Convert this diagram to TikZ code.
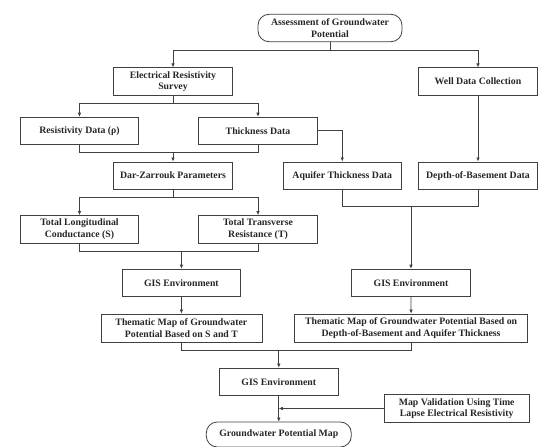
\documentclass[tikz,border=0pt]{standalone}
\usepackage{fontspec}
\setmainfont{Liberation Serif}
\usetikzlibrary{arrows.meta}
\tikzset{
  box/.style={draw=black!75, line width=0.8pt, rectangle, minimum width=118.5pt, minimum height=27.4pt, inner sep=1pt, align=center, font=\bfseries\fontsize{9.8}{11.6}\selectfont, text=black!85},
  rbox/.style={box, rounded corners=11pt},
  ln/.style={draw=black!75, line width=0.7pt},
  arr/.style={ln, -{Latex[length=4pt,width=3.6pt]}}
}
\begin{document}
\begin{tikzpicture}[x=1pt,y=-1pt]
\useasboundingbox (0,0) rectangle (550,447);
\node[rbox, minimum width=144pt] (top) at (330,28) {Assessment of Groundwater\\Potential};
\node[box] (ers) at (173,81.5) {Electrical Resistivity\\Survey};
\node[box] (well) at (478,81.5) {Well Data Collection};
\node[box] (res) at (79.5,130.8) {Resistivity Data (ρ)};
\node[box] (thick) at (258,130.8) {Thickness Data};
\node[box] (dz) at (173,175.6) {Dar-Zarrouk Parameters};
\node[box] (aq) at (342.3,175.6) {Aquifer Thickness Data};
\node[box] (depth) at (478,175.6) {Depth-of-Basement Data};
\node[box] (tl) at (79.5,229.2) {Total Longitudinal\\Conductance (S)};
\node[box] (tt) at (258,229.2) {Total Transverse\\Resistance (T)};
\node[box] (gis1) at (181.4,282.8) {GIS Environment};
\node[box] (gis2) at (411,282.8) {GIS Environment};
\node[box, minimum width=161pt, minimum height=28pt] (th1) at (181.4,328) {Thematic Map of Groundwater\\Potential Based on S and T};
\node[box, minimum width=233pt, minimum height=28pt] (th2) at (411.1,328) {Thematic Map of Groundwater Potential Based on\\Depth-of-Basement and Aquifer Thickness};
\node[box] (gis3) at (278.8,381.7) {GIS Environment};
\node[box, minimum width=145pt] (mv) at (456.7,408.5) {Map Validation Using Time\\Lapse Electrical Resistivity};
\node[rbox, minimum width=145pt, minimum height=25pt] (gpm) at (278.8,434.5) {Groundwater Potential Map};

\coordinate (j1) at (330,50);
\coordinate (j2) at (173,103.3);
\coordinate (j3) at (173,152.3);
\coordinate (j4) at (173,197.8);
\coordinate (j5) at (181.4,251.4);
\coordinate (j6) at (411,206.3);
\coordinate (j7) at (278.8,350.5);

\draw[ln] (top.south) -- (j1);
\draw[arr] (j1) -| (ers.north);
\draw[arr] (j1) -| (well.north);
\draw[ln] (ers.south) -- (j2);
\draw[arr] (j2) -| (res.north);
\draw[arr] (j2) -| (thick.north);
\draw[ln] (res.south) |- (j3) -| (thick.south);
\draw[arr] (j3) -- (dz.north);
\draw[arr] (thick.east) -| (aq.north);
\draw[arr] (well.south) -- (depth.north);
\draw[ln] (dz.south) -- (j4);
\draw[arr] (j4) -| (tl.north);
\draw[arr] (j4) -| (tt.north);
\draw[ln] (tl.south) |- (j5) -| (tt.south);
\draw[arr] (j5) -- (gis1.north);
\draw[ln] (aq.south) |- (j6) -| (depth.south);
\draw[arr] (j6) -- (gis2.north);
\draw[arr] (gis1.south) -- (th1.north);
\draw[arr] (gis2.south) -- (th2.north);
\draw[ln] (th1.south) |- (j7) -| (th2.south);
\draw[arr] (j7) -- (gis3.north);
\draw[arr] (gis3.south) -- (gpm.north);
\draw[arr] (mv.west) -- (mv.west -| gis3.south);
\end{tikzpicture}
\end{document}
